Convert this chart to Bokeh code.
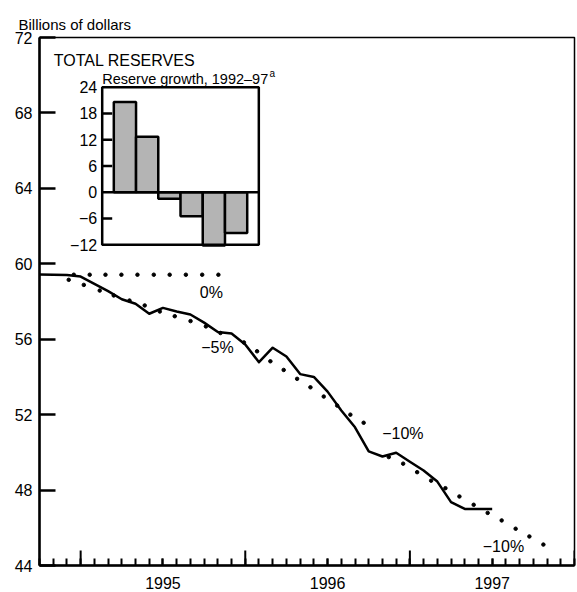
from bokeh.plotting import figure
from bokeh.models import Range1d, FixedTicker
from bokeh.core.properties import value
from bokeh.embed import file_html
from bokeh.resources import INLINE

FONT = "Liberation Sans"

# ---------------- data ----------------
# months since January 1995 (0 = Jan 1995)
months = list(range(-3, 31))
reserves = [59.43, 59.42, 59.40, 59.32, 58.94, 58.55, 58.12, 57.88, 57.35, 57.66,
            57.47, 57.31, 56.88, 56.38, 56.30, 55.72, 54.78, 55.55, 55.08, 54.15,
            54.00, 53.22, 52.22, 51.33, 50.05, 49.78, 49.98, 49.50, 49.04, 48.45,
            47.36, 47.00, 47.00, 47.00]

# dotted growth paths
zero_path_x = [-0.50, 0.66, 1.81, 2.97, 4.14, 5.33, 6.49, 7.67, 8.86, 10.04]
zero_path_y = [59.42] * 10

pathA_x = [-0.87, 0.23, 1.39, 2.41, 3.56, 4.67, 5.77, 6.86, 8.01, 9.13, 10.19,
           11.90, 12.86, 13.83, 14.80, 15.78, 16.75, 17.72, 18.70, 19.66, 20.63]
pathA_y = [59.15, 58.88, 58.58, 58.32, 58.05, 57.79, 57.47, 57.22, 56.96, 56.68, 56.33,
           55.83, 55.36, 54.83, 54.37, 53.90, 53.45, 52.96, 52.48, 52.00, 51.57]

pathB_x = [22.46, 23.51, 24.53, 25.55, 26.59, 27.61, 28.65, 29.67, 30.69, 31.71, 32.71, 33.73]
pathB_y = [49.75, 49.40, 48.95, 48.50, 48.10, 47.66, 47.22, 46.79, 46.39, 45.95, 45.54, 45.11]

path_labels = ["0%", "\u22125%", "\u221210%", "\u221210%"]

year_names = ["1995", "1996", "1997"]
year_starts = [0, 12, 24, 36]
year_mids = [6, 18, 30]
y_ticks = [44, 48, 52, 56, 60, 64, 68, 72]

# inset: reserve growth 1992-97
inset_years = ["1992", "1993", "1994", "1995", "1996", "1997"]
inset_growth = [20.6, 12.7, -1.5, -5.5, -12.2, -9.3]
inset_ticks = [24, 18, 12, 6, 0, -6, -12]
inset_tick_labels = ["24", "18", "12", "6", "0", "\u22126", "\u221212"]

# ---------------- figure ----------------
p = figure(width=577, height=592, x_range=Range1d(-3, 36), y_range=Range1d(44, 72),
           output_backend="svg", toolbar_location=None,
           min_border_left=39, min_border_right=3, min_border_top=37, min_border_bottom=27)
p.background_fill_color = "white"
p.border_fill_color = "white"
p.xgrid.visible = False
p.ygrid.visible = False
p.outline_line_color = "black"
p.outline_line_width = 1.5

p.title.text = "Billions of dollars"
p.title.align = "left"
p.title.offset = -21
p.title.standoff = 10
p.title.text_font = FONT
p.title.text_font_size = "15px"
p.title.text_font_style = "normal"
p.title.text_color = "black"

p.yaxis.ticker = FixedTicker(ticks=y_ticks)
p.yaxis.major_tick_in = 16
p.yaxis.major_tick_out = 0
p.yaxis.minor_tick_line_color = None
p.yaxis.axis_line_width = 2.5
p.yaxis.major_tick_line_width = 2.5
p.yaxis.major_label_standoff = 7
p.yaxis.major_label_text_font = FONT
p.yaxis.major_label_text_font_size = "16px"
p.yaxis.major_label_text_color = "black"

p.xaxis.ticker = FixedTicker(ticks=year_mids, minor_ticks=list(range(-3, 37)))
p.xaxis.major_label_overrides = {m: n for m, n in zip(year_mids, year_names)}
p.xaxis.major_tick_in = 7
p.xaxis.major_tick_out = 0
p.xaxis.minor_tick_in = 7
p.xaxis.minor_tick_out = 0
p.xaxis.axis_line_width = 2.5
p.xaxis.major_tick_line_width = 2
p.xaxis.minor_tick_line_width = 2
p.xaxis.major_label_standoff = 11
p.xaxis.major_label_text_font = FONT
p.xaxis.major_label_text_font_size = "16px"
p.xaxis.major_label_text_color = "black"

# longer ticks at the start of each year
yr_tick_len = 0.8
p.segment(x0=year_starts, x1=year_starts, y0=[44] * len(year_starts),
          y1=[44 + yr_tick_len] * len(year_starts), line_color="black", line_width=2)

# series
p.line(months, reserves, line_color="black", line_width=2.5, line_join="round")
p.scatter(zero_path_x, zero_path_y, size=3.5, color="black")
p.scatter(pathA_x, pathA_y, size=3.5, color="black")
p.scatter(pathB_x, pathB_y, size=3.5, color="black")

lab_x = [9.53, 9.97, 23.49, 30.82]
lab_y = [58.47, 55.56, 51.0, 45.0]
p.text(lab_x, lab_y, text=path_labels, text_align="center", text_baseline="middle",
       text_font=value(FONT), text_font_size="16px", text_color="black")

p.text([-1.96], [70.78], text=["TOTAL RESERVES"], text_align="left",
       text_baseline="alphabetic", text_font=value(FONT), text_font_size="16px",
       text_color="black")

# ---------------- inset ----------------
p.extra_x_ranges = {"ix": Range1d(-3.842, 20.22)}
p.extra_y_ranges = {"iy": Range1d(-85.33, 35.36)}
ix0, ix1 = -1.022, 6.022
p.quad(left=[ix0], right=[ix1], bottom=[inset_ticks[-1]], top=[inset_ticks[0]],
       fill_color="white", line_color=None, x_range_name="ix", y_range_name="iy")
p.vbar(x=list(range(len(inset_growth))), top=inset_growth, bottom=0, width=1.0,
       fill_color="#b4b4b4", line_color="black", line_width=2.5,
       x_range_name="ix", y_range_name="iy")
p.segment(x0=[ix0], x1=[ix1], y0=[0], y1=[0], line_color="black", line_width=2.5,
          x_range_name="ix", y_range_name="iy")
mid_ticks = [t for t in inset_ticks if t not in (inset_ticks[0], 0, inset_ticks[-1])]
p.segment(x0=[ix0] * len(mid_ticks), x1=[ix0 + 0.45] * len(mid_ticks), y0=mid_ticks,
          y1=mid_ticks, line_color="black", line_width=2.5,
          x_range_name="ix", y_range_name="iy")
p.quad(left=[ix0], right=[ix1], bottom=[inset_ticks[-1]], top=[inset_ticks[0]],
       fill_color=None, line_color="black", line_width=2.5,
       x_range_name="ix", y_range_name="iy")
p.text([ix0] * len(inset_ticks), inset_ticks, text=inset_tick_labels, x_offset=-5,
       text_align="right", text_baseline="middle", text_font=value(FONT),
       text_font_size="16px", text_color="black", x_range_name="ix", y_range_name="iy")
p.text([ix0], [25.92], text=["Reserve growth, 1992\u201397"], text_align="left",
       text_baseline="alphabetic", text_font=value(FONT), text_font_size="14.5px",
       text_color="black", x_range_name="ix", y_range_name="iy")
p.text([6.50], [27.06], text=["a"], text_align="left", text_baseline="alphabetic",
       text_font=value(FONT), text_font_size="10px", text_color="black",
       x_range_name="ix", y_range_name="iy")

open("out.html", "w").write(file_html(p, INLINE))
